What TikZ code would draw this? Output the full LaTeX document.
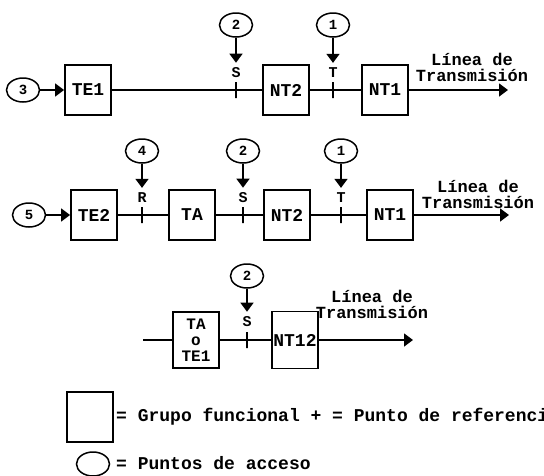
\documentclass[tikz,border=0pt]{standalone}
\usepackage{fontspec}
\setmonofont{Liberation Mono}
\usetikzlibrary{positioning, arrows.meta, shapes.geometric}

\begin{document}
\begin{tikzpicture}[
    x=1pt, y=-1pt,
    fg/.style={draw, rectangle, line width=1.8pt, minimum width=46pt, minimum height=50pt, inner sep=0pt, align=center, font=\fontsize{18}{15}\selectfont\ttfamily\bfseries},
    ap/.style={draw, ellipse, line width=1.5pt, minimum width=33pt, minimum height=24pt, inner sep=0pt, font=\fontsize{14}{14}\selectfont\ttfamily\bfseries},
    refpt/.style={draw, rectangle, line width=1.5pt, minimum width=0pt, minimum height=16pt, inner sep=0pt},
    reflbl/.style={inner sep=1pt, font=\fontsize{15}{15}\selectfont\ttfamily\bfseries},
    txt/.style={inner sep=0pt, align=center, font=\fontsize{17}{16}\selectfont\ttfamily\bfseries},
    link/.style={line width=1.5pt},
    feed/.style={link, -{Triangle[width=13pt, length=9pt]}},
]
\useasboundingbox (0,0) rectangle (544,475);

% fila 1
\node[ap] (ap3) at (23,90) {3};
\node[fg] (te1) at (88,90) {TE1};
\node[fg] (nt2a) at (286,90) {NT2};
\node[fg] (nt1a) at (385,90) {NT1};
\node[refpt] (sa) at (236,90) {};
\node[refpt] (ta) at (333,90) {};
\node[reflbl] (sla) at (236,73) {S};
\node[reflbl] (tla) at (333,73) {T};
\node[ap] (ap2a) at (236,25) {2};
\node[ap] (ap1a) at (333,25) {1};
\coordinate (outa) at (508,90);
\node[txt] (lta) at (472,67) {Línea de\\Transmisión};

\draw[feed] (ap3) -- (te1);
\draw[link] (te1) -- (nt2a);
\draw[link] (nt2a) -- (nt1a);
\draw[feed] (nt1a) -- (outa);
\draw[feed, shorten >=4pt] (ap2a) -- (sla);
\draw[feed, shorten >=4pt] (ap1a) -- (tla);

% fila 2
\node[ap] (ap5) at (29,215) {5};
\node[fg] (te2) at (94,215) {TE2};
\node[fg] (tab) at (192,215) {TA};
\node[fg] (nt2b) at (287,215) {NT2};
\node[fg] (nt1b) at (390,215) {NT1};
\node[refpt] (rb) at (142,215) {};
\node[refpt] (sb) at (243,215) {};
\node[refpt] (tb) at (341,215) {};
\node[reflbl] (rlb) at (142,198) {R};
\node[reflbl] (slb) at (243,198) {S};
\node[reflbl] (tlb) at (341,198) {T};
\node[ap] (ap4) at (142,151) {4};
\node[ap] (ap2b) at (243,151) {2};
\node[ap] (ap1b) at (341,151) {1};
\coordinate (outb) at (509,215);
\node[txt] (ltb) at (478,194) {Línea de\\Transmisión};

\draw[feed] (ap5) -- (te2);
\draw[link] (te2) -- (tab);
\draw[link] (tab) -- (nt2b);
\draw[link] (nt2b) -- (nt1b);
\draw[feed] (nt1b) -- (outb);
\draw[feed, shorten >=4pt] (ap4) -- (rlb);
\draw[feed, shorten >=4pt] (ap2b) -- (slb);
\draw[feed, shorten >=4pt] (ap1b) -- (tlb);

% fila 3
\coordinate (inc) at (143,340);
\node[fg, minimum height=56pt, font=\fontsize{16}{16}\selectfont\ttfamily\bfseries] (tac) at (196,340) {TA\\o\\TE1};
\node[fg, minimum height=57pt] (nt12) at (295,340) {NT12};
\node[refpt] (sc) at (247,340) {};
\node[reflbl] (slc) at (247,322) {S};
\node[ap] (ap2c) at (247,276) {2};
\coordinate (outc) at (413,340);
\node[txt] (ltc) at (372,304) {Línea de\\Transmisión};

\draw[link] (inc) -- (tac);
\draw[link] (tac) -- (nt12);
\draw[feed] (nt12) -- (outc);
\draw[feed, shorten >=4pt] (ap2c) -- (slc);

% leyenda
\node[fg] (keyfg) at (90,417) {};
\node[txt, font=\fontsize{18}{16}\selectfont\ttfamily\bfseries, anchor=west] (keyfgt) at (116,417) {= Grupo funcional + = Punto de referencia};
\node[ap] (keyap) at (93,464) {};
\node[txt, font=\fontsize{18}{16}\selectfont\ttfamily\bfseries, anchor=west] (keyapt) at (116,463) {= Puntos de acceso};
\end{tikzpicture}
\end{document}
